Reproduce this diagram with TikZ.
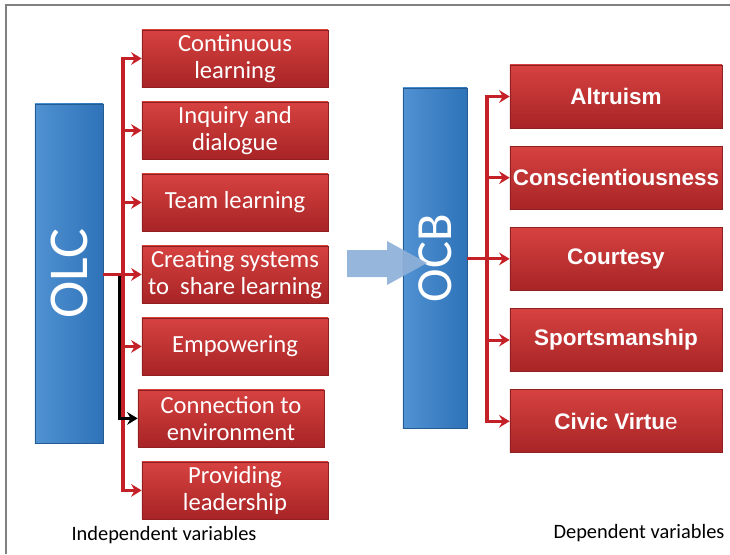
\documentclass[tikz,border=0pt]{standalone}
\usepackage{fontspec}
\setmainfont{Carlito}
\newfontfamily\arialfont{Liberation Sans}
\usepackage{tikz}
\usetikzlibrary{positioning,arrows,arrows.meta}
\definecolor{redtop}{RGB}{214,66,64}
\definecolor{redbot}{RGB}{168,36,38}
\definecolor{redlink}{RGB}{196,32,40}
\definecolor{blueleft}{RGB}{80,146,210}
\definecolor{blueright}{RGB}{46,114,184}
\definecolor{fatarrow}{RGB}{142,176,216}

\begin{document}
\begin{tikzpicture}[x=0.025cm,y=-0.025cm,>={Stealth[length=7.5pt,width=9pt,inset=2.5pt]},
	redbox/.style={draw=redbot!85!black,top color=redtop,bottom color=redbot,text=white,
		minimum width=4.65cm,minimum height=1.425cm,align=center,inner sep=1pt,
		font=\fontsize{17.5}{19}\selectfont},
	ocbbox/.style={redbox,minimum width=5.3cm,minimum height=1.575cm,
		font=\arialfont\bfseries\fontsize{16}{18}\selectfont},
	bluebox/.style={draw=blueright!80!black,left color=blueleft,right color=blueright,
		text=white,rotate=90,inner sep=0pt},
	link/.style={->,draw=redlink,line width=2.2pt},
	blacklink/.style={->,draw=black,line width=2.2pt}]
	\useasboundingbox (0,0) rectangle (730,554);
	\draw[gray,line width=1pt] (6,554) -- (6,5) -- (730,5);

	% independent side
	\node[bluebox,minimum width=8.475cm,minimum height=1.7cm,font=\fontsize{40}{40}\selectfont] (olc) at (69,273.5) {OLC};
	\node[redbox] (b1) at (235,58.5) {Continuous\\learning};
	\node[redbox] (b2) [below=0.36cm of b1] {Inquiry and\\dialogue};
	\node[redbox] (b3) [below=0.36cm of b2] {Team learning};
	\node[redbox] (b4) [below=0.36cm of b3] {Creating systems\\to\ \ share learning};
	\node[redbox] (b5) [below=0.36cm of b4] {Empowering};
	\node[redbox] (b6) [below=0.36cm of b5,xshift=-0.1cm] {Connection to\\environment};
	\node[redbox] (b7) [below=0.36cm of b6,xshift=0.1cm] {Providing\\leadership};

	\coordinate (lt) at (123,271);
	\coordinate (lb) at (119.5,276);
	\draw[link] (olc.south |- b4.west) -- (b4.west);
	\foreach \b in {b1,b2,b3,b5,b7}
		\draw[link] (lt) |- (\b.west);
	\draw[blacklink] (lb) |- (b6.west);

	% dependent side
	\node[bluebox,minimum width=8.5cm,minimum height=1.6cm,font=\fontsize{36}{36}\selectfont] (ocb) at (435,258) {OCB};
	\node[ocbbox] (c1) at (616,96.5) {Altruism};
	\node[ocbbox] (c2) [below=0.44cm of c1] {Conscientiousness};
	\node[ocbbox] (c3) [below=0.44cm of c2] {Courtesy};
	\node[ocbbox] (c4) [below=0.44cm of c3] {Sportsmanship};
	\node[ocbbox] (c5) [below=0.44cm of c4] {Civic Virtu{\mdseries e}};

	\coordinate (rt) at (487,258);
	\draw[link] (ocb.south |- c3.west) -- (c3.west);
	\foreach \c in {c1,c2,c4,c5}
		\draw[link] (rt) |- (\c.west);

	% big arrow between the two
	\fill[fatarrow,opacity=0.92] (347,250) -- (387,250) -- (387,241) -- (427,263)
		-- (387,285) -- (387,277) -- (347,277) -- cycle;

	\node[font=\fontsize{14.5}{16}\selectfont] (indep) at (164,535) {Independent variables};
	\node[font=\fontsize{14.5}{16}\selectfont] (dep) at (639,533) {Dependent variables};
\end{tikzpicture}
\end{document}
